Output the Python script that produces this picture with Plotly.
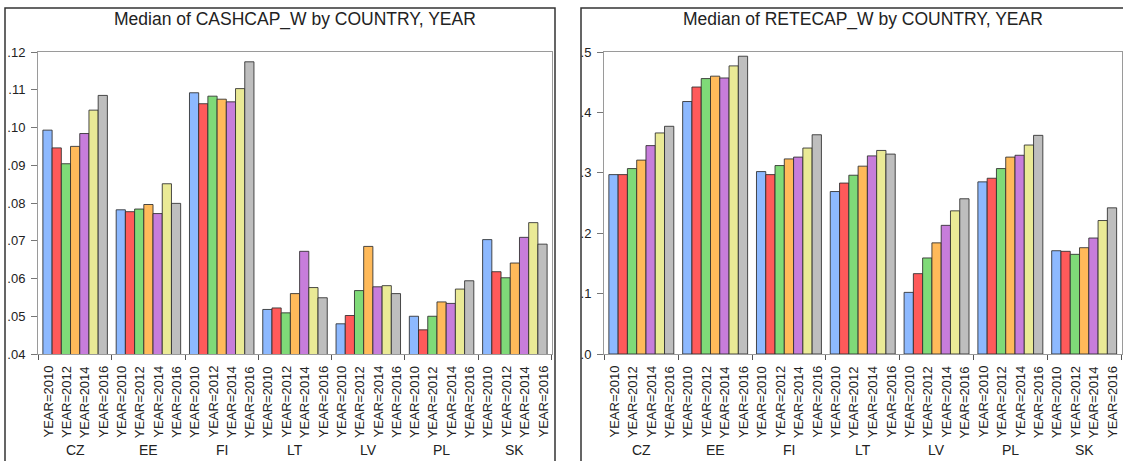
import plotly.graph_objects as go

W, H = 1123, 461

countries = ["CZ", "EE", "FI", "LT", "LV", "PL", "SK"]
years = [2010, 2011, 2012, 2013, 2014, 2015, 2016]
labelled_years = [2010, 2012, 2014, 2016]

# Median CASHCAP_W, one list per year (values across countries)
cashcap = {
    2010: [0.0993, 0.0782, 0.1092, 0.0518, 0.0480, 0.0500, 0.0703],
    2011: [0.0946, 0.0777, 0.1063, 0.0522, 0.0502, 0.0464, 0.0618],
    2012: [0.0904, 0.0784, 0.1083, 0.0509, 0.0568, 0.0500, 0.0602],
    2013: [0.0950, 0.0796, 0.1075, 0.0560, 0.0685, 0.0538, 0.0641],
    2014: [0.0984, 0.0772, 0.1068, 0.0672, 0.0578, 0.0534, 0.0709],
    2015: [0.1046, 0.0851, 0.1103, 0.0576, 0.0581, 0.0572, 0.0748],
    2016: [0.1085, 0.0799, 0.1174, 0.0549, 0.0560, 0.0594, 0.0691],
}

# Median RETECAP_W, one list per year (values across countries)
retecap = {
    2010: [0.297, 0.418, 0.302, 0.269, 0.102, 0.285, 0.171],
    2011: [0.297, 0.442, 0.297, 0.283, 0.133, 0.291, 0.170],
    2012: [0.307, 0.456, 0.312, 0.296, 0.159, 0.307, 0.165],
    2013: [0.321, 0.460, 0.323, 0.311, 0.184, 0.326, 0.176],
    2014: [0.345, 0.457, 0.326, 0.328, 0.213, 0.329, 0.192],
    2015: [0.366, 0.477, 0.341, 0.337, 0.237, 0.346, 0.221],
    2016: [0.377, 0.493, 0.363, 0.331, 0.257, 0.362, 0.242],
}

cash_ticks = [0.04, 0.05, 0.06, 0.07, 0.08, 0.09, 0.10, 0.11, 0.12]
cash_ticktext = [".04", ".05", ".06", ".07", ".08", ".09", ".10", ".11", ".12"]
rete_ticks = [0.0, 0.1, 0.2, 0.3, 0.4, 0.5]
rete_ticktext = [".0", ".1", ".2", ".3", ".4", ".5"]

colors = ["#8DB9FF", "#FF5A5A", "#7FDA78", "#FFBA5A", "#C77DDB", "#EAEA96", "#BEBEBE"]

BARGAP = 0.12
FONT = "Liberation Sans, Arial, sans-serif"

fig = go.Figure()

for k, (data, xa, ya) in enumerate([(cashcap, "x", "y"), (retecap, "x2", "y2")]):
    for j, yr in enumerate(years):
        fig.add_trace(go.Bar(
            x=countries, y=data[yr], name=str(yr),
            xaxis=xa, yaxis=ya,
            marker=dict(color=colors[j], line=dict(color="rgba(45,45,45,0.85)", width=1)),
            showlegend=False,
        ))

px = lambda v: v / W
py = lambda v: (H - v) / H

ydom = [py(354), py(52)]
axis_common = dict(showline=True, mirror=True, linecolor="#9a9a9a", linewidth=1,
                   showgrid=False, zeroline=False)

fig.update_layout(
    width=W, height=H,
    margin=dict(l=0, r=0, t=0, b=0, autoexpand=False),
    paper_bgcolor="white", plot_bgcolor="white",
    barmode="group", bargap=BARGAP, bargroupgap=0,
    font=dict(family=FONT, size=13, color="#222"),
    xaxis=dict(domain=[px(38), px(552)], anchor="y", type="category",
               categoryorder="array", categoryarray=countries,
               showticklabels=False, ticks="outside", tickson="boundaries",
               ticklen=5, tickcolor="#555", **axis_common),
    yaxis=dict(domain=ydom, anchor="x", range=[0.04, 0.12],
               tickvals=cash_ticks, ticktext=cash_ticktext,
               ticks="outside", ticklen=6, tickcolor="#777",
               ticklabelstandoff=3, **axis_common),
    xaxis2=dict(domain=[px(604), px(1121.5)], anchor="y2", type="category",
                categoryorder="array", categoryarray=countries,
                showticklabels=False, ticks="outside", tickson="boundaries",
                ticklen=5, tickcolor="#555", **axis_common),
    yaxis2=dict(domain=ydom, anchor="x2", range=[0, 0.5],
                tickvals=rete_ticks, ticktext=rete_ticktext,
                ticks="outside", ticklen=6, tickcolor="#777",
                ticklabelstandoff=3, **axis_common),
)

annotations = []
shapes = []
titles = ["Median of CASHCAP_W by COUNTRY, YEAR", "Median of RETECAP_W by COUNTRY, YEAR"]
plot_spans = [(38, 552), (604, 1121.5)]
frames = [(5, 555), (581, 1140)]
nyears = len(years)
slot = (1 - BARGAP) / nyears

for k, xref in enumerate(["x", "x2"]):
    # chart title
    annotations.append(dict(
        text=titles[k], xref="paper", yref="paper",
        x=px(sum(plot_spans[k]) / 2), y=py(19), xanchor="center", yanchor="middle",
        showarrow=False, font=dict(size=17.5, color="#222"),
    ))
    for i, c in enumerate(countries):
        # rotated year labels under every other bar of the group
        for j, yr in enumerate(years):
            if yr not in labelled_years:
                continue
            annotations.append(dict(
                text=f"YEAR={yr}", xref=xref, yref="paper",
                x=i - (1 - BARGAP) / 2 + (j + 0.5) * slot, y=py(402),
                xanchor="center", yanchor="middle", textangle=-90,
                showarrow=False, font=dict(size=13, color="#222"),
            ))
        # country label below the group
        annotations.append(dict(
            text=c, xref=xref, yref="paper", x=i, y=py(450),
            xanchor="center", yanchor="middle", showarrow=False,
            font=dict(size=14, color="#222"),
        ))
    # panel frame
    shapes.append(dict(
        type="rect", xref="paper", yref="paper",
        x0=px(frames[k][0]), x1=px(frames[k][1]), y0=-0.1, y1=py(8),
        line=dict(color="#333", width=1.5), fillcolor="rgba(0,0,0,0)", layer="below",
    ))

fig.update_layout(annotations=annotations, shapes=shapes)

fig.write_html("out.html")
